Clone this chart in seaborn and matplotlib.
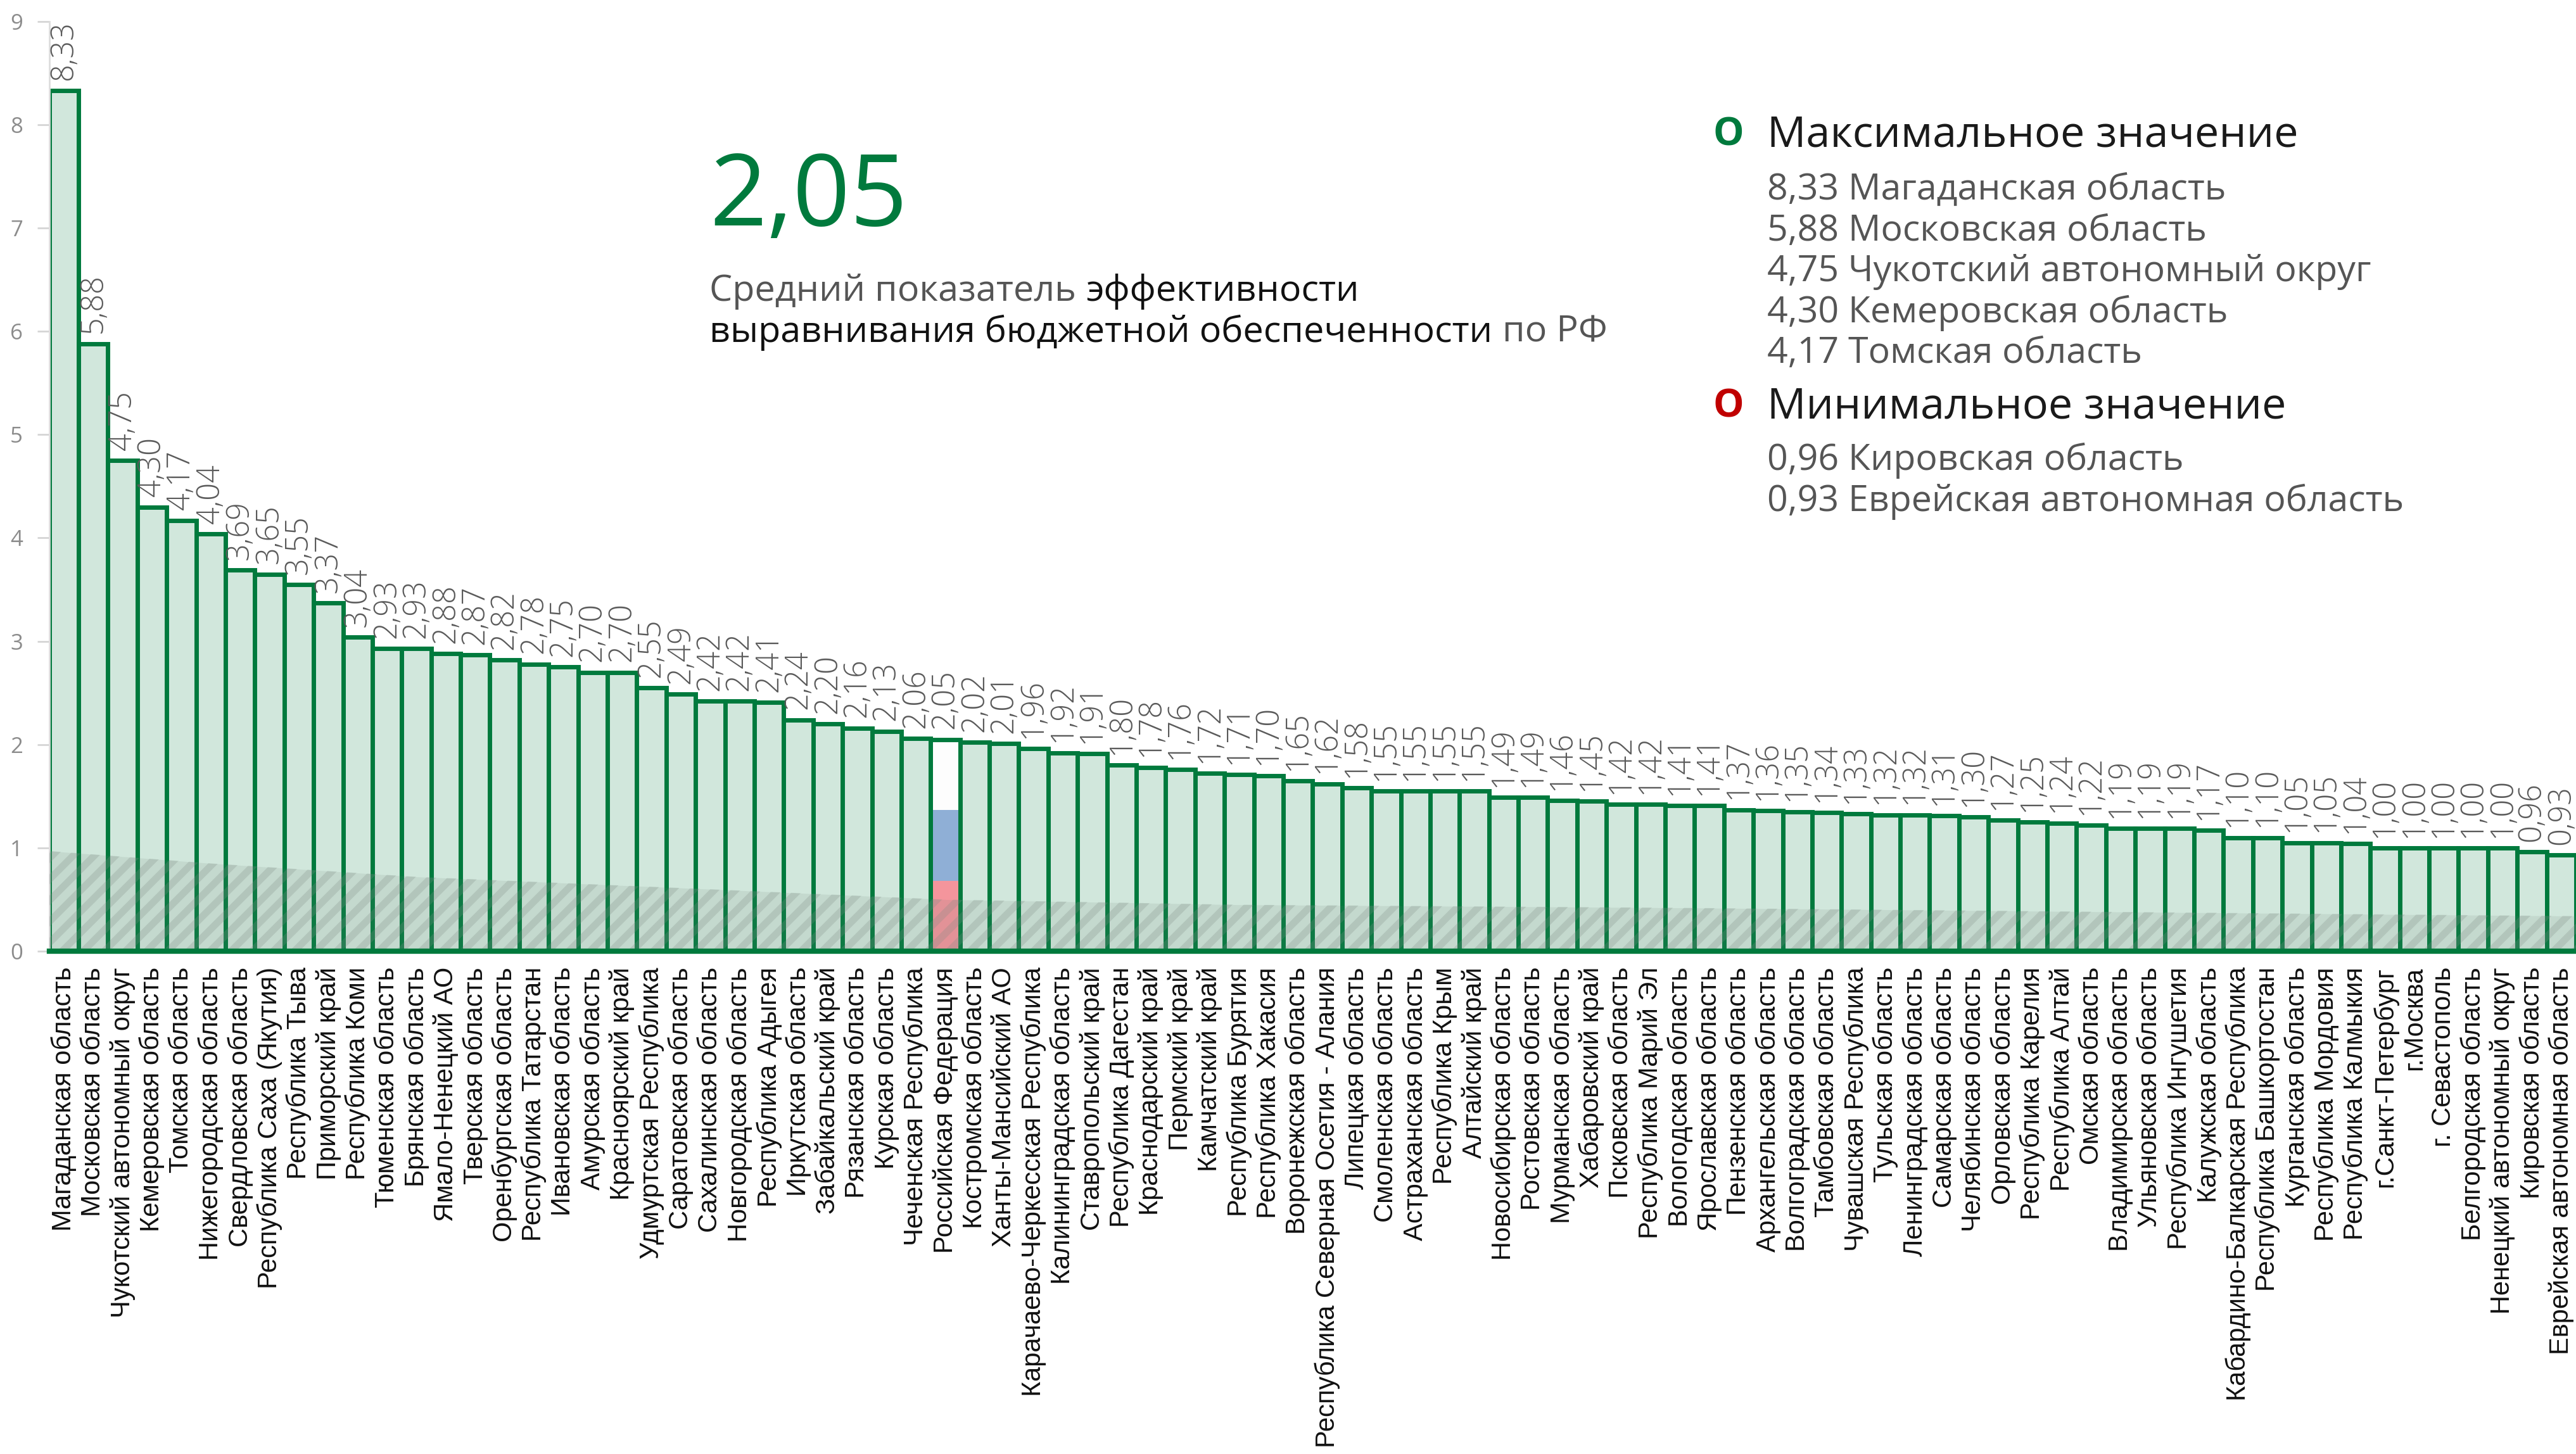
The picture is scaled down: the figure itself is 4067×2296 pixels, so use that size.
import numpy as np
import pandas as pd
import matplotlib
matplotlib.use("Agg")
import matplotlib.pyplot as plt
import seaborn as sns

# data
regions = [
    "Магаданская область", "Московская область", "Чукотский автономный округ",
    "Кемеровская область", "Томская область", "Нижегородская область",
    "Свердловская область", "Республика Саха (Якутия)", "Республика Тыва",
    "Приморский край", "Республика Коми", "Тюменская область", "Брянская область",
    "Ямало-Ненецкий АО", "Тверская область", "Оренбургская область",
    "Республика Татарстан", "Ивановская область", "Амурская область",
    "Красноярский край", "Удмуртская Республика", "Саратовская область",
    "Сахалинская область", "Новгородская область", "Республика Адыгея",
    "Иркутская область", "Забайкальский край", "Рязанская область",
    "Курская область", "Чеченская Республика", "Российская Федерация",
    "Костромская область", "Ханты-Мансийский АО", "Карачаево-Черкесская Республика",
    "Калининградская область", "Ставропольский край", "Республика Дагестан",
    "Краснодарский край", "Пермский край", "Камчатский край", "Республика Бурятия",
    "Республика Хакасия", "Воронежская область",
    "Республика Северная Осетия - Алания", "Липецкая область",
    "Смоленская область", "Астраханская область", "Республика Крым",
    "Алтайский край", "Новосибирская область", "Ростовская область",
    "Мурманская область", "Хабаровский край", "Псковская область",
    "Республика Марий Эл", "Вологодская область", "Ярославская область",
    "Пензенская область", "Архангельская область", "Волгоградская область",
    "Тамбовская область", "Чувашская Республика", "Тульская область",
    "Ленинградская область", "Самарская область", "Челябинская область",
    "Орловская область", "Республика Карелия", "Республика Алтай",
    "Омская область", "Владимирская область", "Ульяновская область",
    "Республика Ингушетия", "Калужская область",
    "Кабардино-Балкарская Республика", "Республика Башкортостан",
    "Курганская область", "Республика Мордовия", "Республика Калмыкия",
    "г.Санкт-Петербург", "г.Москва", "г. Севастополь", "Белгородская область",
    "Ненецкий автономный округ", "Кировская область",
    "Еврейская автономная область",
]
values = [
    8.33, 5.88, 4.75, 4.30, 4.17, 4.04, 3.69, 3.65, 3.55, 3.37,
    3.04, 2.93, 2.93, 2.88, 2.87, 2.82, 2.78, 2.75, 2.70, 2.70,
    2.55, 2.49, 2.42, 2.42, 2.41, 2.24, 2.20, 2.16, 2.13, 2.06,
    2.05, 2.02, 2.01, 1.96, 1.92, 1.91, 1.80, 1.78, 1.76, 1.72,
    1.71, 1.70, 1.65, 1.62, 1.58, 1.55, 1.55, 1.55, 1.55, 1.49,
    1.49, 1.46, 1.45, 1.42, 1.42, 1.41, 1.41, 1.37, 1.36, 1.35,
    1.34, 1.33, 1.32, 1.32, 1.31, 1.30, 1.27, 1.25, 1.24, 1.22,
    1.19, 1.19, 1.19, 1.17, 1.10, 1.10, 1.05, 1.05, 1.04, 1.00,
    1.00, 1.00, 1.00, 1.00, 0.96, 0.93,
]
rf_name = "Российская Федерация"
rf_value = 2.05

top_list = ["8,33 Магаданская область", "5,88 Московская область",
            "4,75 Чукотский автономный округ", "4,30 Кемеровская область",
            "4,17 Томская область"]
bottom_list = ["0,96 Кировская область", "0,93 Еврейская автономная область"]

GREEN = "#007a3d"
FILL = "#d1e7dc"
RED = "#c00000"
FLAG = ["#f4959c", "#8fafd6", "#fdfdfd"]

sns.set_theme(style="white")
plt.rcParams["font.family"] = ["DejaVu Sans"]
plt.rcParams["hatch.linewidth"] = 4
plt.rcParams["hatch.color"] = "#7d8d84"

fig = plt.figure(figsize=(20.335, 11.48), dpi=200)
ax = fig.add_axes([0.0191, 0.3458, 0.9809, 0.6395])

df = pd.DataFrame({"region": regions, "value": values})
sns.barplot(data=df, x="region", y="value", color=FILL, saturation=1,
            edgecolor=GREEN, linewidth=2.5, width=1.0, ax=ax, zorder=2)

# flag bar for Russia
rf_i = regions.index(rf_name)
ax.patches[rf_i].set_facecolor("none")
bottom = 0
for c in FLAG:
    ax.bar(rf_i, rf_value / 3, bottom=bottom, width=1.0, color=c, zorder=1.5, linewidth=0)
    bottom += rf_value / 3

# soft shadow band along the bottom
sx = [-0.5, 5, 12, 22, 30, 40, 55, 70, 85.5]
sy = [0.97, 0.85, 0.72, 0.6, 0.5, 0.45, 0.42, 0.38, 0.34]
ax.fill_between(sx, 0, sy, color="#6f8077", alpha=0.13, lw=0, zorder=3)
ax.fill_between(sx, 0, sy, facecolor="none", hatch="//", edgecolor="#7d8d84",
                alpha=0.25, lw=0, zorder=3)

for i, v in enumerate(values):
    ax.text(i, v + 0.1, f"{v:.2f}".replace(".", ","), rotation=90,
            ha="center", va="bottom", fontsize=17.5, color="#5a5a5a",
            family="Open Sans", fontweight="light", zorder=5)

ax.set_xlim(-0.5, len(values) - 0.5)
ax.set_ylim(0, 9)
ax.set_yticks(range(10))
ax.set_xlabel("")
ax.set_ylabel("")
ax.set_xticks(range(len(regions)))
ax.set_xticklabels(regions, rotation=90, fontsize=15, color="#111111",
                   family="Liberation Sans")
ax.tick_params(axis="x", length=0, pad=9)
ax.tick_params(axis="y", length=7, width=1, color="#d5d5d5",
               labelsize=12.5, labelcolor="#8c8c8c", pad=8, left=True)
for lab in ax.get_yticklabels():
    lab.set_family("Open Sans")
sns.despine(ax=ax, top=True, right=True)
ax.spines["left"].set_color("#dddddd")
ax.spines["left"].set_linewidth(1)
ax.spines["bottom"].set_color(GREEN)
ax.spines["bottom"].set_linewidth(3)
ax.spines["bottom"].set_zorder(6)

# headline
fig.text(0.2755, 0.845, "2,05", fontsize=57, color=GREEN, family="Open Sans",
         va="baseline")

renderer = fig.canvas.get_renderer()


def put_line(x, y, parts, size):
    for txt, col in parts:
        t = fig.text(x, y, txt, fontsize=size, color=col, family="Open Sans",
                     va="baseline")
        bb = t.get_window_extent(renderer=renderer)
        x = fig.transFigure.inverted().transform((bb.x1, bb.y0))[0]


put_line(0.2755, 0.793, [("Средний показатель ", "#555555"),
                         ("эффективности", "#111111")], 20.7)
put_line(0.2755, 0.765, [("выравнивания бюджетной обеспеченности", "#111111"),
                         (" по РФ", "#555555")], 20.7)

# right block
fig.text(0.671, 0.907, "O", fontsize=22, fontweight="bold", color=GREEN,
         ha="center", va="center", family="Open Sans")
fig.text(0.686, 0.907, "Максимальное значение", fontsize=24.6, color="#1a1a1a",
         va="center", family="Open Sans")
for k, s in enumerate(top_list):
    fig.text(0.686, 0.869 - k * 0.0281, s, fontsize=20.6, color="#555555",
             va="center", family="Open Sans")
fig.text(0.671, 0.720, "O", fontsize=22, fontweight="bold", color=RED,
         ha="center", va="center", family="Open Sans")
fig.text(0.686, 0.720, "Минимальное значение", fontsize=24.6, color="#1a1a1a",
         va="center", family="Open Sans")
for k, s in enumerate(bottom_list):
    fig.text(0.686, 0.683 - k * 0.0283, s, fontsize=20.6, color="#555555",
             va="center", family="Open Sans")

fig.savefig("out.png", dpi=200)
